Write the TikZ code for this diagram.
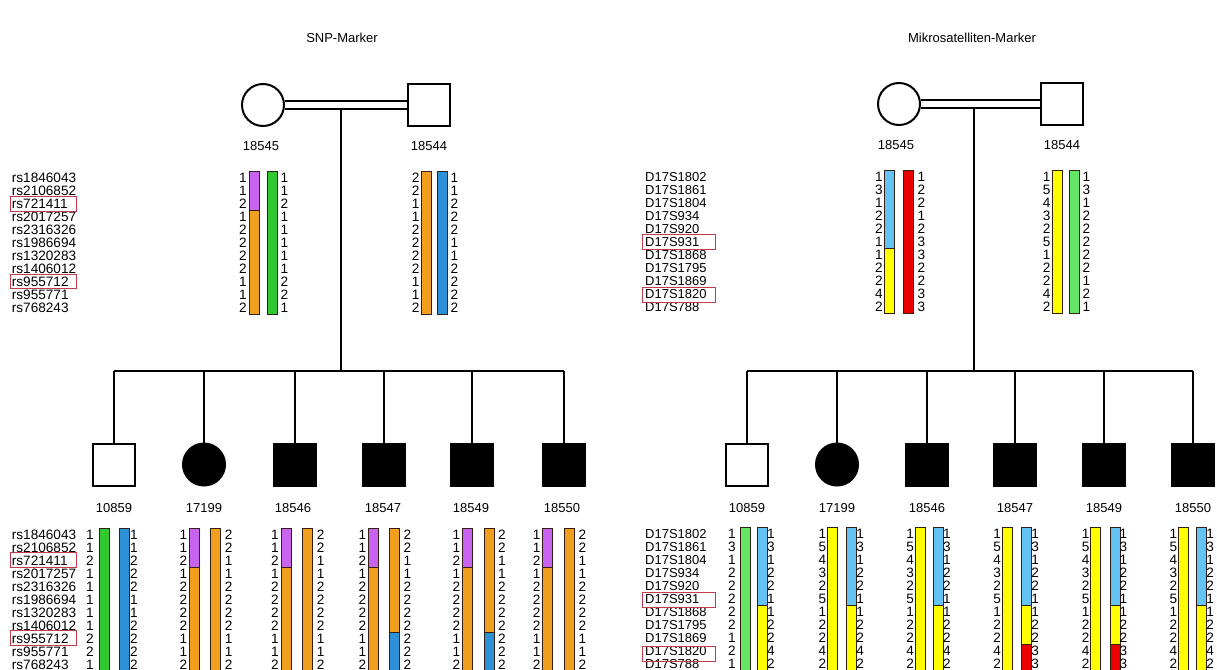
\documentclass[tikz,border=0pt]{standalone}
\usepackage{fontspec}
\setmainfont{Liberation Sans}
\usetikzlibrary{calc}
\definecolor{purp}{RGB}{200,100,240}
\definecolor{orng}{RGB}{240,160,30}
\definecolor{grn}{RGB}{50,200,50}
\definecolor{blu}{RGB}{45,145,215}
\definecolor{lblu}{RGB}{100,195,245}
\definecolor{yel}{RGB}{255,255,0}
\definecolor{rd}{RGB}{235,0,0}
\definecolor{lgrn}{RGB}{100,230,100}
\definecolor{boxred}{RGB}{195,60,75}
\definecolor{barc}{RGB}{50,30,20}
\tikzset{
  txt/.style={font=\fontsize{13}{13}\selectfont, inner sep=0pt},
  num/.style={font=\fontsize{13.6}{13}\selectfont, inner sep=0pt},
  snptxt/.style={font=\fontsize{13.6}{13}\selectfont, inner sep=0pt},
  barline/.style={draw=barc, line width=0.9},
  ind/.style={draw, line width=2, minimum size=42, inner sep=0},
  male/.style={ind, rectangle, fill=white},
  female/.style={ind, circle, fill=white},
  aff/.style={fill=black},
  pline/.style={line width=1.2},
  mbox/.style={draw=boxred, line width=0.8},
}
\def\gl{2}\def\gr{2}
% #1 xL, #2 xR, #3 ytop, #4 Lnums, #5 Rnums, #6 Lsegs, #7 Rsegs, #9 id
\newcommand\hap[9]{%
  \foreach \sa/\sb/\col in {#6}{\fill[\col] (#1,#3+\sa*13) rectangle (#1+10,#3+\sb*13);}
  \foreach \sa/\sb/\col in {#7}{\fill[\col] (#2,#3+\sa*13) rectangle (#2+10,#3+\sb*13);}
  \foreach \sa/\sb/\col in {#6}{\draw[barline] (#1,#3+\sb*13) -- (#1+10,#3+\sb*13);}
  \foreach \sa/\sb/\col in {#7}{\draw[barline] (#2,#3+\sb*13) -- (#2+10,#3+\sb*13);}
  \draw[barline] (#1,#3) rectangle (#1+10,#3+143);
  \draw[barline] (#2,#3) rectangle (#2+10,#3+143);
  \foreach \v [count=\i from 0] in {#4}{\node[num,anchor=base east] (#9L\i) at (#1-\gl,#3+\i*13+11.3) {\v};}
  \foreach \v [count=\i from 0] in {#5}{\node[num,anchor=base west] (#9R\i) at (#2+10+\gr,#3+\i*13+11.3) {\v};}
}
\begin{document}
\begin{tikzpicture}[x=1pt,y=-1pt]
\useasboundingbox (0,0) rectangle (1217,669);
\clip (0,0) rectangle (1217,669);
\fill[white] (0,0) rectangle (1217,669);

% titles
\node[txt] (title1) at (342,38) {SNP-Marker};
\node[txt] (title2) at (972,38) {Mikrosatelliten-Marker};

% ---------------- left pedigree ----------------
\node[female] (m1) at (263,105) {};
\node[male] (f1) at (429,105) {};
\draw[pline] ([yshift=4]m1.east) -- ([yshift=4]m1.east -| f1.west);
\draw[pline] ([yshift=-4]m1.east) -- ([yshift=-4]m1.east -| f1.west);
\coordinate (d1) at (341,109);
\coordinate (s1) at (341,371);
\draw[pline] (d1) -- (s1);
\node[txt] (lm1) at (261,146) {18545};
\node[txt] (lf1) at (429,146) {18544};

\node[male] (a1) at (114,464.5) {};
\node[female,aff] (a2) at (204,464.5) {};
\node[male,aff] (a3) at (295,464.5) {};
\node[male,aff] (a4) at (384,464.5) {};
\node[male,aff] (a5) at (472,464.5) {};
\node[male,aff] (a6) at (564,464.5) {};
\draw[pline] (a1.north |- s1) -- (a6.north |- s1);
\foreach \k in {a1,a2,a3,a4,a5,a6}{\draw[pline] (\k.north) -- (\k.north |- s1);}
\node[txt] (la1) at (114,508) {10859};
\node[txt] (la2) at (204,508) {17199};
\node[txt] (la3) at (293,508) {18546};
\node[txt] (la4) at (383,508) {18547};
\node[txt] (la5) at (471,508) {18549};
\node[txt] (la6) at (562,508) {18550};

% ---------------- right pedigree ----------------
\node[female] (m2) at (899,104) {};
\node[male] (f2) at (1062,104) {};
\draw[pline] ([yshift=4]m2.east) -- ([yshift=4]m2.east -| f2.west);
\draw[pline] ([yshift=-4]m2.east) -- ([yshift=-4]m2.east -| f2.west);
\coordinate (d2) at (974,108);
\coordinate (s2) at (974,371);
\draw[pline] (d2) -- (s2);
\node[txt] (lm2) at (896,145) {18545};
\node[txt] (lf2) at (1062,145) {18544};

\node[male] (b1) at (747,464.5) {};
\node[female,aff] (b2) at (837,464.5) {};
\node[male,aff] (b3) at (927,464.5) {};
\node[male,aff] (b4) at (1015,464.5) {};
\node[male,aff] (b5) at (1104,464.5) {};
\node[male,aff] (b6) at (1193,464.5) {};
\draw[pline] (b1.north |- s2) -- (b6.north |- s2);
\foreach \k in {b1,b2,b3,b4,b5,b6}{\draw[pline] (\k.north) -- (\k.north |- s2);}
\node[txt] (lb1) at (747,508) {10859};
\node[txt] (lb2) at (837,508) {17199};
\node[txt] (lb3) at (927,508) {18546};
\node[txt] (lb4) at (1015,508) {18547};
\node[txt] (lb5) at (1104,508) {18549};
\node[txt] (lb6) at (1193,508) {18550};

% ---------------- marker names ----------------
\foreach \t [count=\i from 0] in {rs1846043,rs2106852,rs721411,rs2017257,rs2316326,rs1986694,rs1320283,rs1406012,rs955712,rs955771,rs768243}{
  \node[snptxt,anchor=base west] (snpA\i) at (11.7,171+\i*13+11.3) {\t};
  \node[snptxt,anchor=base west] (snpB\i) at (11.7,528.3+\i*13+11.3) {\t};
}
\foreach \t [count=\i from 0] in {D17S1802,D17S1861,D17S1804,D17S934,D17S920,D17S931,D17S1868,D17S1795,D17S1869,D17S1820,D17S788}{
  \node[txt,anchor=base west] (msA\i) at (645,170+\i*13+11.2) {\t};
  \node[txt,anchor=base west] (msB\i) at (645,527+\i*13+11.2) {\t};
}
\draw[mbox] (10,196.5) rectangle (76,211);
\draw[mbox] (10,274) rectangle (76,288.5);
\draw[mbox] (10,552) rectangle (76,567);
\draw[mbox] (10,630) rectangle (76,645);
\draw[mbox] (642,234) rectangle (715,249.5);
\draw[mbox] (642,287.5) rectangle (715,302.5);
\draw[mbox] (642,592) rectangle (715,607.5);
\draw[mbox] (642,646.5) rectangle (715,661.5);

% ---------------- SNP haplotypes ----------------
\def\gl{2}\def\gr{3}
\hap{249}{267.5}{171}{1,1,2,1,2,2,2,2,1,1,2}{1,1,2,1,1,1,1,1,2,2,1}{0/3/purp,3/11/orng}{0/11/grn}{}{hm1}
\hap{421.7}{437.5}{171}{2,2,1,1,2,2,2,2,1,1,2}{1,1,2,2,2,1,1,2,2,2,2}{0/11/orng}{0/11/blu}{}{hf1}
\def\gl{5}\def\gr{1}
\hap{99}{119}{528.3}{1,1,2,1,1,1,1,1,2,2,1}{1,1,2,2,2,1,1,2,2,2,2}{0/11/grn}{0/11/blu}{}{ha1}
\def\gl{2}\def\gr{4}
\hap{189.3}{210.7}{528.3}{1,1,2,1,2,2,2,2,1,1,2}{2,2,1,1,2,2,2,2,1,1,2}{0/3/purp,3/11/orng}{0/11/orng}{}{ha2}
\hap{281}{302.7}{528.3}{1,1,2,1,2,2,2,2,1,1,2}{2,2,1,1,2,2,2,2,1,1,2}{0/3/purp,3/11/orng}{0/11/orng}{}{ha3}
\hap{368.3}{389.3}{528.3}{1,1,2,1,2,2,2,2,1,1,2}{2,2,1,1,2,2,2,2,2,2,2}{0/3/purp,3/11/orng}{0/8/orng,8/11/blu}{}{ha4}
\hap{462.3}{484}{528.3}{1,1,2,1,2,2,2,2,1,1,2}{2,2,1,1,2,2,2,2,2,2,2}{0/3/purp,3/11/orng}{0/8/orng,8/11/blu}{}{ha5}
\hap{542.7}{564.3}{528.3}{1,1,2,1,2,2,2,2,1,1,2}{2,2,1,1,2,2,2,2,1,1,2}{0/3/purp,3/11/orng}{0/11/orng}{}{ha6}

% ---------------- microsatellite haplotypes ----------------
\def\gl{1.5}\def\gr{4}
\hap{884.3}{903.3}{170}{1,3,1,2,2,1,1,2,2,4,2}{1,2,2,1,2,3,3,2,2,3,3}{0/6/lblu,6/11/yel}{0/11/rd}{}{hm2}
\def\gr{3}
\hap{1052}{1069.5}{170}{1,5,4,3,2,5,1,2,2,4,2}{1,3,1,2,2,2,2,2,1,2,1}{0/11/yel}{0/11/lgrn}{}{hf2}
\def\gl{4}\def\gr{-0.5}
\hap{740}{757.3}{527}{1,3,1,2,2,2,2,2,1,2,1}{1,3,1,2,2,1,1,2,2,4,2}{0/11/lgrn}{0/6/lblu,6/11/yel}{}{hb1}
\def\gl{1}
\hap{827.3}{846.7}{527}{1,5,4,3,2,5,1,2,2,4,2}{1,3,1,2,2,1,1,2,2,4,2}{0/11/yel}{0/6/lblu,6/11/yel}{}{hb2}
\hap{915}{933.3}{527}{1,5,4,3,2,5,1,2,2,4,2}{1,3,1,2,2,1,1,2,2,4,2}{0/11/yel}{0/6/lblu,6/11/yel}{}{hb3}
\hap{1002}{1021.7}{527}{1,5,4,3,2,5,1,2,2,4,2}{1,3,1,2,2,1,1,2,2,3,3}{0/11/yel}{0/6/lblu,6/9/yel,9/11/rd}{}{hb4}
\hap{1090.7}{1110}{527}{1,5,4,3,2,5,1,2,2,4,2}{1,3,1,2,2,1,1,2,2,3,3}{0/11/yel}{0/6/lblu,6/9/yel,9/11/rd}{}{hb5}
\hap{1178.3}{1196.7}{527}{1,5,4,3,2,5,1,2,2,4,2}{1,3,1,2,2,1,1,2,2,4,2}{0/11/yel}{0/6/lblu,6/11/yel}{}{hb6}
\end{tikzpicture}
\end{document}
